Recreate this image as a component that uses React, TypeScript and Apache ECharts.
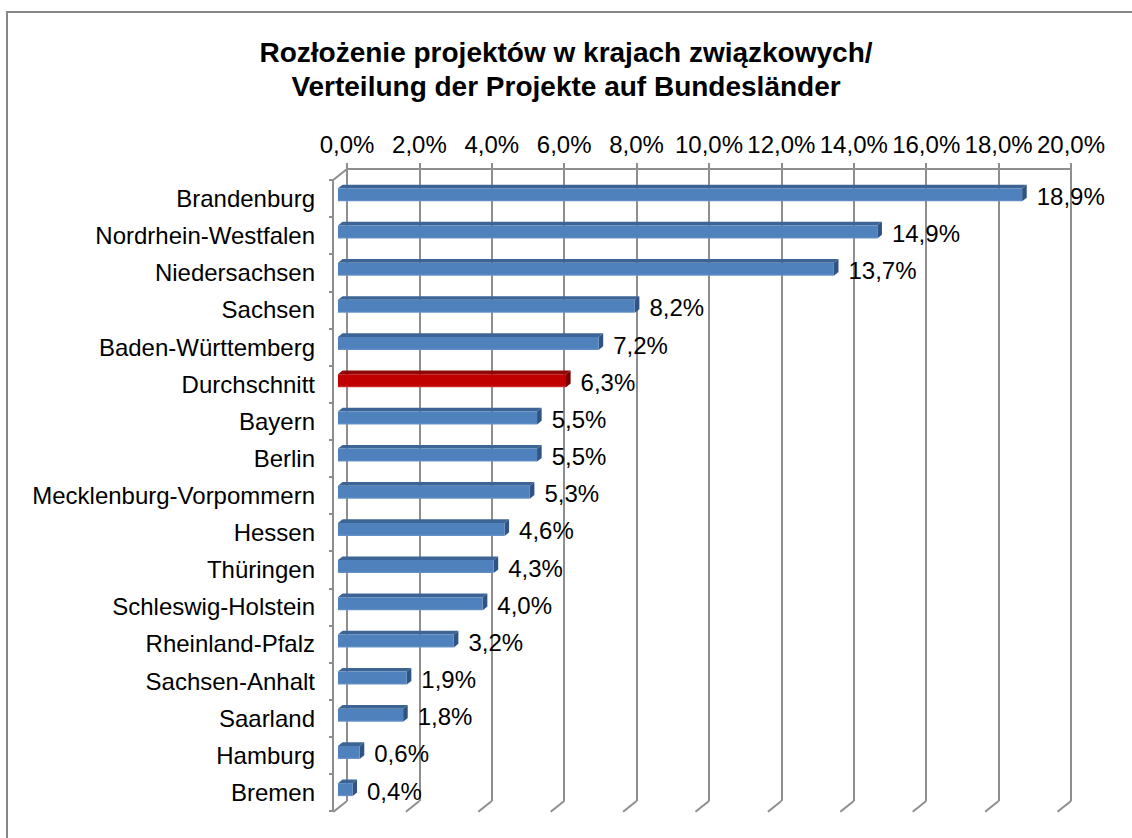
import React, { useEffect, useRef } from "react";
import * as echarts from "echarts";

const categories = [
  "Brandenburg",
  "Nordrhein-Westfalen",
  "Niedersachsen",
  "Sachsen",
  "Baden-Württemberg",
  "Durchschnitt",
  "Bayern",
  "Berlin",
  "Mecklenburg-Vorpommern",
  "Hessen",
  "Thüringen",
  "Schleswig-Holstein",
  "Rheinland-Pfalz",
  "Sachsen-Anhalt",
  "Saarland",
  "Hamburg",
  "Bremen",
];
const values = [18.9, 14.9, 13.7, 8.2, 7.2, 6.3, 5.5, 5.5, 5.3, 4.6, 4.3, 4.0, 3.2, 1.9, 1.8, 0.6, 0.4];
const xTicks = [0, 2, 4, 6, 8, 10, 12, 14, 16, 18, 20];
const highlight = "Durchschnitt";
const titleText = "Rozłożenie projektów w krajach związkowych/\nVerteilung der Projekte auf Bundesländer";

const FONT = '"Liberation Sans", Arial, sans-serif';
const GRID_COLOR = "#8e8e8e";
const DX = -13.5;
const DY = 10.8;

const fmt = (v: number) => v.toFixed(1).replace(".", ",") + "%";

export default function App() {
  const ref = useRef<HTMLDivElement>(null);
  useEffect(() => {
    if (!ref.current) return;
    const chart = echarts.init(ref.current, undefined, { renderer: "svg" });
    const lineStyle = { color: GRID_COLOR, width: 2 };
    const option: any = {
      animation: false,
      backgroundColor: "#ffffff",
      title: {
        text: titleText,
        left: "center",
        top: 30,
        textStyle: {
          fontSize: 28,
          fontWeight: "bold",
          fontFamily: FONT,
          color: "#000",
          lineHeight: 34,
        },
      },
      graphic: [
        {
          type: "rect",
          shape: { x: 7, y: 12, width: 1200, height: 900 },
          style: { fill: "none", stroke: "#878787", lineWidth: 2 },
          silent: true,
        },
      ],
      grid: [
        { left: 347, top: 169, width: 724, height: 632 },
        { left: 333, top: 180, width: 724, height: 631 },
      ],
      xAxis: [
        {
          gridIndex: 0,
          type: "value",
          min: 0,
          max: 20,
          interval: 2,
          position: "top",
          axisLine: { show: true, lineStyle },
          axisTick: { show: true, length: 6, lineStyle },
          splitLine: { show: true, lineStyle },
          axisLabel: {
            formatter: (v: number) => fmt(v),
            fontSize: 24,
            fontFamily: FONT,
            color: "#000",
            margin: 13,
          },
        },
        { gridIndex: 1, type: "value", min: 0, max: 20, show: false },
      ],
      yAxis: [
        { gridIndex: 0, type: "category", data: categories, inverse: true, show: false },
        {
          gridIndex: 1,
          type: "category",
          data: categories,
          inverse: true,
          axisLine: { show: true, lineStyle },
          axisTick: { show: true, length: 4, lineStyle },
          splitLine: { show: false },
          axisLabel: {
            fontSize: 24,
            fontFamily: FONT,
            color: "#000",
            margin: 18,
          },
        },
      ],
      series: [
        {
          type: "custom",
          xAxisIndex: 0,
          yAxisIndex: 0,
          silent: true,
          z: 1,
          data: xTicks.map((t) => [t, 0]),
          renderItem: (params: any, api: any) => {
            const t = api.value(0);
            const cs = params.coordSys;
            const x = api.coord([t, 0])[0];
            const yb = cs.y + cs.height;
            const children: any[] = [
              {
                type: "line",
                shape: { x1: x, y1: yb, x2: x + DX, y2: yb + DY },
                style: { stroke: GRID_COLOR, lineWidth: 2 },
              },
            ];
            if (t === xTicks[0]) {
              children.push({
                type: "line",
                shape: { x1: cs.x, y1: cs.y, x2: cs.x + DX, y2: cs.y + DY },
                style: { stroke: GRID_COLOR, lineWidth: 2 },
              });
            }
            return { type: "group", children };
          },
        },
        {
          type: "custom",
          xAxisIndex: 0,
          yAxisIndex: 0,
          z: 3,
          data: values.map((v, i) => [v, i]),
          renderItem: (params: any, api: any) => {
            const v = api.value(0);
            const i = api.value(1);
            const p = api.coord([v, i]);
            const p0 = api.coord([0, i]);
            const a = 0.33;
            const b = 0.67;
            const h = 6.5;
            const red = categories[i] === highlight;
            const front = red ? "#c00000" : "#4f81bd";
            const top = red ? "#8e0a0a" : "#3c6494";
            const side = red ? "#7a0000" : "#2f5384";
            const xb0 = p0[0] + b * DX;
            const xbv = p[0] + b * DX;
            const yb = p[1] + b * DY;
            const xa0 = p0[0] + a * DX;
            const xav = p[0] + a * DX;
            const ya = p[1] + a * DY;
            return {
              type: "group",
              children: [
                {
                  type: "polygon",
                  shape: { points: [[xa0, ya - h], [xav, ya - h], [xbv, yb - h], [xb0, yb - h]] },
                  style: { fill: top },
                },
                {
                  type: "polygon",
                  shape: { points: [[xav, ya - h], [xbv, yb - h], [xbv, yb + h], [xav, ya + h]] },
                  style: { fill: side },
                },
                {
                  type: "rect",
                  shape: { x: xb0, y: yb - h, width: xbv - xb0, height: 2 * h },
                  style: {
                    fill: new echarts.graphic.LinearGradient(0, 0, 0, 1, [
                      { offset: 0, color: front },
                      { offset: 0.85, color: front },
                      { offset: 1, color: red ? "#d23a3a" : "#6a95c9" },
                    ]),
                  },
                },
                {
                  type: "text",
                  x: xav + 10,
                  y: yb + 1.5,
                  style: {
                    text: fmt(v),
                    fill: "#000",
                    fontSize: 24,
                    fontFamily: FONT,
                    align: "left",
                    verticalAlign: "middle",
                  },
                },
              ],
            };
          },
        },
      ],
    };
    chart.setOption(option);
    return () => chart.dispose();
  }, []);
  return (
    <div
      ref={ref}
      style={{ position: "absolute", left: 0, top: 0, width: 1132, height: 838 }}
    />
  );
}
